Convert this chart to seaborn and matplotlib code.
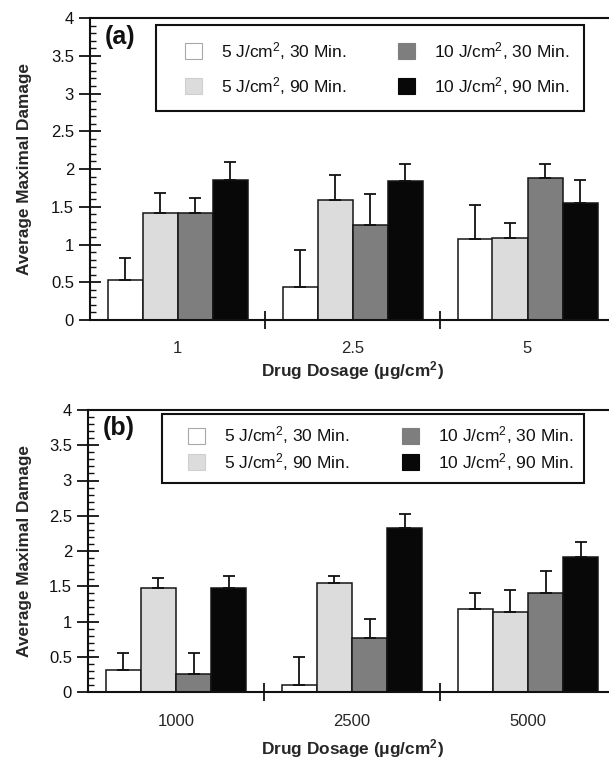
import numpy as np
import pandas as pd
import matplotlib
matplotlib.use("Agg")
import matplotlib.pyplot as plt
import seaborn as sns
from matplotlib.patches import Patch
from matplotlib.legend_handler import HandlerPatch
from matplotlib.ticker import MultipleLocator

# ---------------- data ----------------
series = ["5 J/cm$^2$, 30 Min.", "5 J/cm$^2$, 90 Min.",
          "10 J/cm$^2$, 30 Min.", "10 J/cm$^2$, 90 Min."]
bar_colors = ["#ffffff", "#dcdcdc", "#7e7e7e", "#080808"]
legend_edges = ["#a8a8a8", "#cfcfcf", "#7e7e7e", "#080808"]

dose_a = ["1", "2.5", "5"]
a_5_30 = [0.53, 0.44, 1.07]
a_5_90 = [1.42, 1.59, 1.09]
a_10_30 = [1.42, 1.26, 1.88]
a_10_90 = [1.86, 1.84, 1.55]
a_5_30_err = [0.29, 0.49, 0.45]
a_5_90_err = [0.26, 0.33, 0.20]
a_10_30_err = [0.19, 0.41, 0.18]
a_10_90_err = [0.23, 0.22, 0.31]

dose_b = ["1000", "2500", "5000"]
b_5_30 = [0.31, 0.10, 1.18]
b_5_90 = [1.47, 1.54, 1.14]
b_10_30 = [0.26, 0.76, 1.40]
b_10_90 = [1.48, 2.33, 1.91]
b_5_30_err = [0.25, 0.39, 0.23]
b_5_90_err = [0.15, 0.11, 0.31]
b_10_30_err = [0.29, 0.28, 0.31]
b_10_90_err = [0.17, 0.20, 0.22]

y_ticks = [0, 0.5, 1, 1.5, 2, 2.5, 3, 3.5, 4]
y_ticklabels = ["0", "0.5", "1", "1.5", "2", "2.5", "3", "3.5", "4"]

# ---------------- style ----------------
sns.set_style("ticks")
plt.rcParams["font.family"] = ["Liberation Sans", "DejaVu Sans"]
plt.rcParams["mathtext.fontset"] = "custom"
plt.rcParams["mathtext.rm"] = "Liberation Sans"
plt.rcParams["mathtext.bf"] = "Liberation Sans:bold"
plt.rcParams["mathtext.default"] = "regular"
plt.rcParams["axes.linewidth"] = 1.5
plt.rcParams["text.color"] = "#111111"

fig = plt.figure(figsize=(6.09, 7.59), dpi=100)
fig.patch.set_facecolor("white")


def panel(rect, doses, vals, errs, tag, xlabel_pad, ticklabel_pad, ylabel_x,
          leg_rect, leg_spacing, leg_pad, leg_shift):
    ax = fig.add_axes(rect)
    df = pd.DataFrame({
        "dose": [d for s in series for d in doses],
        "series": [s for s in series for _ in doses],
        "value": [v for vs in vals for v in vs],
    })
    sns.barplot(data=df, x="dose", y="value", hue="series", order=doses,
                hue_order=series, palette=bar_colors, saturation=1,
                errorbar=None, width=0.8, edgecolor="#151515", linewidth=1.1,
                legend=False, ax=ax)
    for cont, err in zip(ax.containers, errs):
        xs = [b.get_x() + b.get_width() / 2 for b in cont]
        hs = [b.get_height() for b in cont]
        ax.errorbar(xs, hs, yerr=[np.zeros(len(err)), err], fmt="none",
                    ecolor="#111111", elinewidth=1.3, capsize=4, capthick=1.3,
                    zorder=3)
    ax.set_xlim(-0.5, 2.5)
    ax.set_ylim(0, 4)
    ax.set_yticks(y_ticks, labels=y_ticklabels)
    ax.yaxis.set_minor_locator(MultipleLocator(0.1))
    ax.tick_params(axis="y", which="major", direction="inout", length=16,
                   width=1.3, labelsize=12, pad=3.5, colors="#111111")
    ax.tick_params(axis="y", which="minor", direction="in", length=4.3,
                   width=1.0, colors="#111111")
    ax.set_xticks([0, 1, 2], labels=doses)
    ax.set_xticks([0.5, 1.5], minor=True)
    ax.tick_params(axis="x", which="major", length=0, labelsize=12,
                   pad=ticklabel_pad)
    ax.tick_params(axis="x", which="minor", direction="inout", length=12.5,
                   width=1.3, colors="#111111")
    for s in ["left", "bottom", "top"]:
        ax.spines[s].set_visible(True)
        ax.spines[s].set_color("#111111")
    ax.spines["right"].set_visible(False)
    ax.set_ylabel("Average Maximal Damage", fontsize=12.4, fontweight="bold")
    ax.yaxis.set_label_coords(ylabel_x, 0.5)
    ax.set_xlabel("Drug Dosage (\u03bcg/cm$^\\mathbf{2}$)", fontsize=12.4,
                  fontweight="bold", labelpad=xlabel_pad)
    ax.text(0.028, 0.937, tag, transform=ax.transAxes, ha="left",
            va="center", fontsize=18, fontweight="bold")
    handles = [Patch(facecolor=c, edgecolor=e, linewidth=0.8)
               for c, e in zip(bar_colors, legend_edges)]
    leg = ax.legend(handles, series,
                    ncol=2, loc="upper left", bbox_to_anchor=leg_rect,
                    bbox_transform=fig.transFigure, mode="expand",
                    fontsize=12.5, frameon=True, fancybox=False,
                    framealpha=1, edgecolor="#111111", borderpad=leg_pad,
                    labelspacing=leg_spacing, handlelength=1.0 + leg_shift,
                    handleheight=1.0, handletextpad=1.1, borderaxespad=0,
                    handler_map={Patch: HandlerPatch(xpad=leg_shift)})
    leg.get_frame().set_linewidth(1.5)
    return ax


panel([90 / 609, (759 - 320) / 759, 525 / 609, 302 / 759], dose_a,
      [a_5_30, a_5_90, a_10_30, a_10_90],
      [a_5_30_err, a_5_90_err, a_10_30_err, a_10_90_err], "(a)",
      xlabel_pad=2.5, ticklabel_pad=15, ylabel_x=-0.111,
      leg_rect=(156 / 609, 1 - 25 / 759, 428 / 609, 0),
      leg_spacing=0.75, leg_pad=0.85, leg_shift=0.8)

panel([88 / 609, (759 - 692) / 759, 528 / 609, 282 / 759], dose_b,
      [b_5_30, b_5_90, b_10_30, b_10_90],
      [b_5_30_err, b_5_90_err, b_10_30_err, b_10_90_err], "(b)",
      xlabel_pad=5.5, ticklabel_pad=16, ylabel_x=-0.107,
      leg_rect=(162 / 609, 1 - 414 / 759, 422 / 609, 0),
      leg_spacing=0.25, leg_pad=0.6, leg_shift=0.9)

fig.savefig("out.png", dpi=100)
